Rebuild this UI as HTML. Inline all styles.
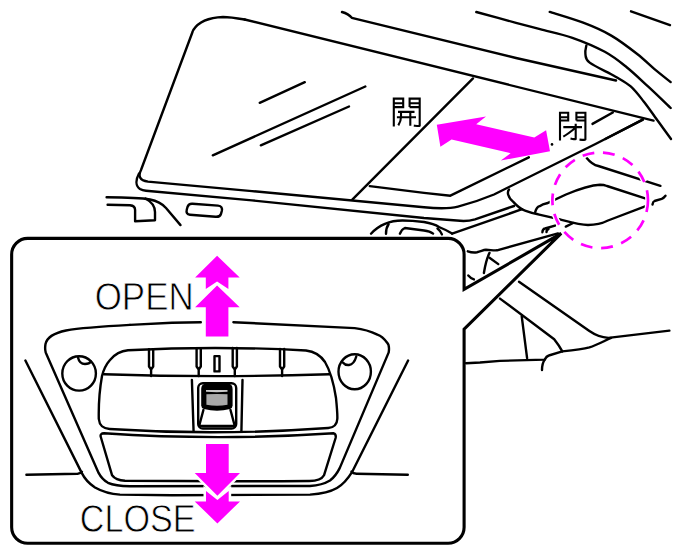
<!DOCTYPE html>
<html><head><meta charset="utf-8">
<style>
html,body{margin:0;padding:0;background:#fff;width:686px;height:556px;overflow:hidden}
svg{display:block}
</style></head><body>
<svg width="686" height="556" viewBox="0 0 686 556">
<g fill="none" stroke="#000" stroke-width="2.4" stroke-linecap="round" stroke-linejoin="round">
<path d="M342,12 Q348.5,13.8 351.8,17.8 L516,58 L616,80.5"/>
<path d="M476.3,12 C482.9,13.8 505.4,19.9 516,22.8 C526.6,25.7 530.6,26.7 540,29.2 C549.4,31.7 561.6,34 572.4,37.8 C583.2,41.6 595.8,46.9 604.8,51.8 C613.8,56.7 619.2,61.2 626.4,67 C633.6,72.8 640.6,79.6 648,86.4 C655.4,93.2 666.9,104.4 670.7,108"/>
<path d="M549.7,11.9 C555.3,13.7 572.9,18.8 583.2,22.7 C593.5,26.6 602.3,30.4 611.3,35.6 C620.3,40.8 630,48.4 637.2,54 C644.4,59.6 648.9,64.4 654.5,69.1 C660.1,73.8 668,79.9 670.7,82.1"/>
<path d="M631,11.3 L670,25.2"/>
<path d="M586.4,45.4 C586.2,46.8 584.8,51.1 585.4,54 C586,56.9 584.7,58.8 589.7,62.6 C594.7,66.4 608.8,72.7 615.6,76.7 C622.4,80.7 626,82.3 630.7,86.4 C635.4,90.5 639.7,96.4 643.7,101.5 C647.8,106.6 651.8,112.6 655,117 C658.2,121.4 660.3,124.3 663,128 C665.7,131.7 669.7,137.2 671,139"/>
<path d="M244.7,19.5 C236,18 230,17 223,17 C210,17.5 199,21 193.3,30 C193,30.5 192.8,31 192.5,32 L141,170 C138,176 139.5,180.5 148,181.6 L252,191.1 L424,207.2 C438,208.6 448,209 458,206.6 C470,203.5 482,199.5 494,194.5 L596,143.7 L642.8,119.6"/>
<path d="M244.7,19.5 L653.5,120.6"/>
<path d="M139,173.5 C135.5,180 135.5,186 140,189 C142,190.2 144,190.6 146,190.8 L252,200.4 L424,218 L460,220.8 C466,221.3 470,220.8 475,219.3 L514,206"/>
<path d="M259.7,102.8 L304.8,82.2"/>
<path d="M212.8,155.3 L365.3,86.5"/>
<path d="M260.8,145.3 L349,106.5"/>
<path d="M473,78.4 L352.3,199.7"/>
<path d="M369.8,186.1 L424,192.9 L450.4,195.7 L528.8,157.3"/>
<path d="M592.5,123.9 L612.8,112.5"/>
<path d="M605.3,139 L642.8,119.6"/>
<path d="M106.6,197.2 C125,197.3 140,197.6 150,199.5 C157,200.8 162,203.5 166,208 L180.5,225.1"/>
<path d="M107.6,204.8 L130,205.2 C134,205.6 135.1,207 135.1,210 L135.1,221.3 L155,220.3 L155,212 C155,207 152,202 145.5,198.5"/>
<path d="M192.5,203.8 L218,205.6 C221.5,205.9 222.5,208 221.8,211 L221,213.8 C220.3,216.2 218.5,217 215.5,216.8 L190,214.8 C187,214.5 186,212.5 186.8,209.5 L187.5,207 C188.3,204.6 190,203.6 192.5,203.8 Z"/>
<path d="M509,189.5 C507,192 507.5,197 513.3,201.9 C517,206 520,209 525,210.6 C530,212.5 534,213.5 538.1,214.3 L560,219.4 C572,222.5 580,224.8 588,225 C596,225 602,223.5 608,220.5 L645.1,206.4"/>
<path d="M452.1,233.6 L522.1,209.2"/>
<path d="M535.2,212.1 C536,209 537,207 539.6,206.2 C542,204.5 544,203.8 546.9,203.3 L566,194.5 C580,188.5 592,185 600,184.7 C603,184.7 605,185.2 607,186 L645.1,198.3"/>
<path d="M586.7,157.9 C590,162 594,165 598.4,166 L660.4,185.8"/>
<path d="M652.5,204.5 C652.8,202.5 653.2,201.5 654.5,201 L661.7,198.8 C663,198.3 664.5,197.2 665.5,195.8"/>
<path d="M371,233.7 C380,224 390,220.5 402.4,220.5 C412,220.5 420,221.5 424,222 C430,223 436,225 439,227 C444,229 448,231 452.1,233.6"/>
<path d="M388.6,224.2 C386.5,227 386,230 386,233.7"/>
<path d="M399.9,233.7 C401,231 402.5,229 404.9,228 L424,230.5 C428,231 431,232 433.1,233.6"/>
<path d="M437.5,228.5 C439.5,230 441,232 441.9,234.4"/>
<path d="M467.8,251.3 C471,252.5 474,252.8 477,252.3 C481,251.5 483,250 486,249.8 C490,249.8 493,250.6 497,250.3 L558,233.4"/>
<path d="M542.4,232.3 C542.5,230 543,229 545,228.5 L555,225.6"/>
<path d="M546.5,232 C546.5,230.5 547,229.5 548.5,229"/>
<path d="M565.8,226.6 L573.1,223"/>
<path d="M489.5,252.9 C487,258 485,266 483.9,273"/>
<path d="M489.5,257.7 L498.3,264.1"/>
<path d="M468.3,275.5 C470,277.5 472,278.8 473.9,279.4"/>
<path d="M519,281.8 L589.4,331.1 C595,335 602,337.5 608.4,337.9 L669.4,330.6"/>
<path d="M466,363.3 L480,362.5 L500,360.9 L544.7,359.6 C546,357 547,356 548.8,355.5 L562.3,351.4 C575,350 583,349 589.4,347.4 C597,345 604,341 611.1,337.9"/>
<path d="M500,298.6 L554.2,339.2 C558,344 560,347 562.3,351.4"/>
<path d="M521.7,316.2 L527.1,358.2"/>
<path d="M544.7,359.6 C543,362 542,366 542,370"/>
</g>
<path d="M27.65,238.40 L448.10,238.40 A16,16 0 0 1 464.10,254.40 L464.10,289.4 L561.2,233.4 L464.10,329.2 L464.10,527.30 A16,16 0 0 1 448.10,543.30 L27.65,543.30 A16,16 0 0 1 11.65,527.30 L11.65,254.40 A16,16 0 0 1 27.65,238.40 Z" fill="#fff" stroke="#000" stroke-width="3.1" stroke-linejoin="miter"/>
<g fill="none" stroke="#000" stroke-width="2.4" stroke-linecap="round" stroke-linejoin="round">
<path d="M25.4,360.5 L81.7,472.9 C84,477.5 88,483 95,487.5 C102,491.5 110,494 120,494.6 L172,495.2 L310,494.6 C322,493.8 331,491.5 337,488 C343,484.5 348,478.5 352.5,471.3 L408.1,360.5"/>
<path d="M26.4,474.8 L77.7,473.7 C79.5,473.5 81,473 82,471.8"/>
<path d="M351.5,471.5 C352.5,473 354,473.6 356.5,473.7 L407.8,474.8"/>
<path d="M130,324.9 C100,326.5 80,328 66,330.5 C54,333 47,337 45.5,344 C45,347 45,350 45.7,352.4 L98.6,472.9 C101,477.5 104,480.5 108,482.8 C113,485 120,486 130,486.2 L310,486 C318,485.5 325,483.5 330,480.5 C334,477.5 337,473.5 339.7,468.1 L388.7,352.4 C389.5,347 388.5,344 387.1,342.7 C383,337 380,335.5 377.4,334.6 C370,331 362,329 354.7,328.1 L233.4,322.2"/>
<path d="M200.8,322.2 L172,322.7 L130,324.9"/>
<ellipse cx="79.1" cy="373.4" rx="16.8" ry="17.2"/>
<path d="M78,357.5 C79,362 81,364 85,364 C88,364 90,363 91,361.5"/>
<ellipse cx="354.7" cy="371.8" rx="16.2" ry="17.5"/>
<path d="M356.3,356.5 C355,361 353,364.5 349,365 C346,365.3 344,364 342.8,362.5"/>
<path d="M110,360 C115,354 120,351 128,350.3 Q217,345.5 306,350.5 C315,351.5 321,356 325,362 C331,372 334,385 336,398 C337,408 337.5,416 337.3,419 C337,425 334,427.5 328.2,428 Q217,436 109.6,429 C103,428.5 99.5,426 98.8,419 C98.5,405 99.5,390 102,376 C103.5,370 106,364.5 110,360 Z"/>
<path d="M103.9,374.2 Q217,378 329.6,374.2"/>
<path d="M104,433.3 Q218,441 333.7,433.3 C336,434 336,436 335.6,438 L324,475.3 C322,479 318,481 309.4,481 Q218,481.6 125,480.8 C118,480.5 114,478 112.1,475.3 L100.8,437 C100,434.5 101.5,433.3 104,433.3 Z"/>
<path d="M149.0,349.2 L149.0,366.5 L151.1,369.5 L151.1,376 M153.2,349.2 L153.2,366.5 L151.1,369.5"/>
<path d="M196.6,348.2 L196.6,366.5 L198.7,369.5 L198.7,376 M200.8,348.2 L200.8,366.5 L198.7,369.5"/>
<path d="M232.7,348.0 L232.7,366.5 L234.8,369.5 L234.8,376 M236.9,348.0 L236.9,366.5 L234.8,369.5"/>
<path d="M280.0,348.9 L280.0,366.5 L282.1,369.5 L282.1,376 M284.2,348.9 L284.2,366.5 L282.1,369.5"/>
<rect x="214.5" y="356.1" width="5" height="15.3"/>
<path d="M191.9,380 L193.6,431.8"/>
<path d="M242.5,380 L241.4,431.8"/>
<rect x="198.2" y="383.3" width="38" height="45.2" rx="4.6" ry="4.6"/>
<path d="M203.4,410 L199.4,425 M230.5,410 L234.5,425 M200.5,426 L234,426"/>
</g>
<path d="M201.2,389 Q201.2,383.8 206.5,383.8 L227.5,383.8 Q232.6,383.8 232.6,389 L232.6,405.5 Q232.6,408 230,409 Q217,412.5 204,409 Q201.2,408 201.2,405.5 Z" fill="#000"/>
<path d="M206,390.1 L227.5,390.1 L227.5,391.8 Q217,392.6 206,391.8 Z" fill="#c8c8c8"/>
<path d="M206.4,394.2 Q217,393.6 227.5,394.2 L227.5,404.8 Q217,406.8 206.4,404.8 Z" fill="#aaa"/>
<g fill="#ff00ff" stroke="#fff" stroke-width="5" stroke-linejoin="miter" paint-order="stroke">
<path d="M436.8,124.7 L486,116.4 L476.2,124.3 L534.3,137.5 L546.1,130.2 L550,151.3 L500.8,160.5 L510.6,153.2 L451.6,139.4 L440.4,146.7Z" stroke="none"/>
<path d="M217.1,285.6 L239.7,307.2 L228.4,307.2 L228.4,336.5 L205.8,336.5 L205.8,307.2 L195.1,307.2Z"/>
<path d="M217.1,255.8 L239.7,277.6 L228.4,277.6 L228.4,289 L217.1,281.5 L205.8,289 L205.8,277.6 L195.1,277.6Z"/>
<path d="M206,444.1 L228.7,444.1 L228.7,473.1 L240,473.1 L217.4,495.8 L194.7,473.1 L206,473.1Z"/>
<path d="M206,491 L217.4,500 L228.7,491 L228.7,501.4 L240,501.4 L217.4,523.4 L194.7,501.4 L206,501.4Z"/>
</g>
<circle cx="600.2" cy="200.3" r="47.8" fill="none" stroke="#fff" stroke-width="5.5" stroke-dasharray="11.9 8.8"/>
<circle cx="600.2" cy="200.3" r="47.8" fill="none" stroke="#ff00ff" stroke-width="2.7" stroke-dasharray="11.9 8.8"/>
<g font-family="Liberation Sans, sans-serif" fill="#000" stroke="#fff" stroke-width="0.8">
<text x="94.7" y="309.5" font-size="39" textLength="99" lengthAdjust="spacingAndGlyphs">OPEN</text>
<text x="79.8" y="532" font-size="39" textLength="115.8" lengthAdjust="spacingAndGlyphs">CLOSE</text>
</g>
<g fill="none" stroke="#000" stroke-width="2.1" stroke-linecap="butt">
<path d="M393.8,126.5 L393.8,98.6 L403.2,98.6 L403.2,107.1 L393.8,107.1 M393.8,103.3 L403.2,103.3"/>
<path d="M409.6,107.1 L409.6,98.6 L419.7,98.6 L419.7,125.8 C419.7,126.2 418,126 413.8,125.6 M409.6,103.3 L419.7,103.3 M409.6,107.1 L419.7,107.1"/>
<path d="M398,111.9 L414.5,111.9 M396.9,117.3 L416,117.3 M410.3,111 L410.3,125.8 M401,111 L401,117 C401,121 399.5,123.5 398.3,125.4"/>
<path d="M560,140.6 L560,112.7 L568.2,112.7 L568.2,120.5 L560,120.5 M560,117.2 L568.2,117.2"/>
<path d="M576.4,120.5 L576.4,112.7 L585.4,112.7 L585.4,139.6 C585.4,140 583.5,139.9 579.5,139.6 M576.4,117.2 L585.4,117.2 M576.4,120.5 L585.4,120.5"/>
<path d="M563.3,127.1 L582,127.1 M575.7,123.7 L575.7,139 C575.7,139.5 573,139 570.5,138.4 M575.2,128 C571,131.5 567,134.5 563.3,136.6"/>
</g>
<circle cx="552" cy="144.4" r="1.3" fill="#000"/>
</svg>
</body></html>
